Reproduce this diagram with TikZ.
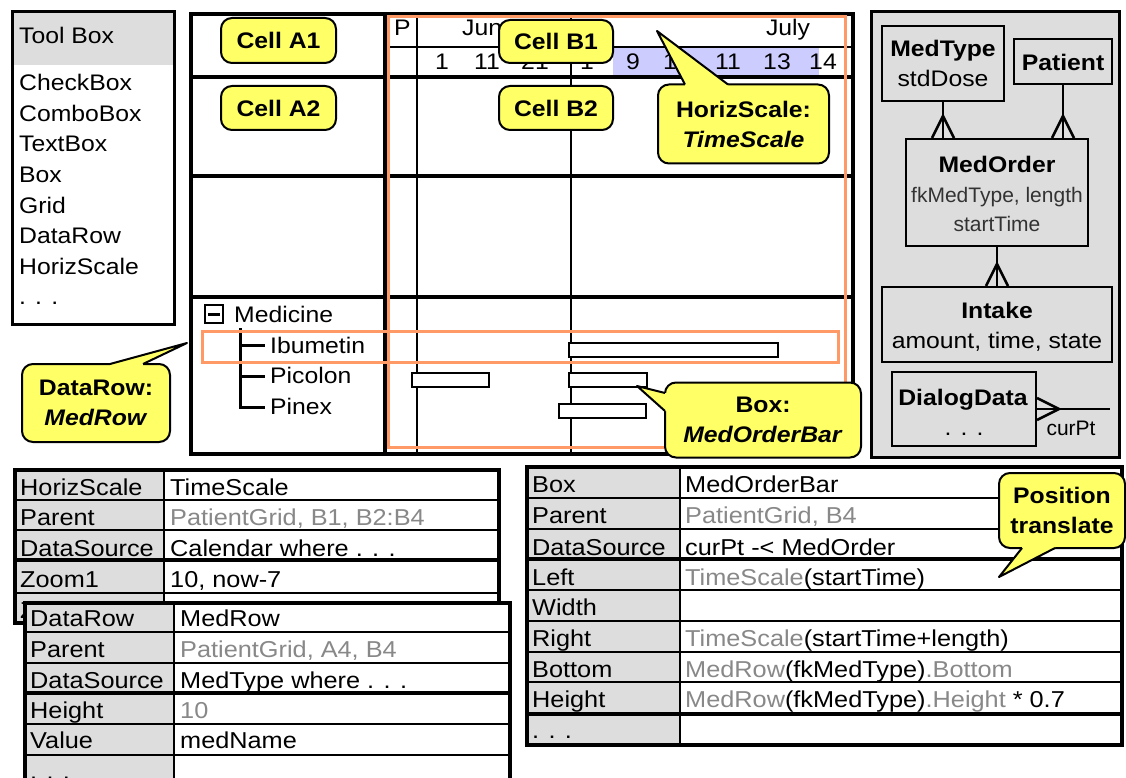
\documentclass[tikz,border=0pt]{standalone}
\usepackage{fontspec}
\setmainfont{Liberation Sans}[FakeStretch=1.1]
\newfontfamily\erplain{Liberation Sans}
\usetikzlibrary{calc}
\definecolor{calloutyellow}{RGB}{255,255,102}
\definecolor{panelgray}{RGB}{221,221,221}
\definecolor{orangeframe}{RGB}{255,153,102}
\definecolor{lavender}{RGB}{204,204,255}
\definecolor{softgray}{RGB}{136,136,136}
\definecolor{darktext}{RGB}{51,51,51}
\newcommand{\calltail}[4]{%
  \fill[calloutyellow] ($(#1)+(#4)$) -- (#1) -- (#2) -- (#3) -- ($(#3)+(#4)$) -- cycle;
  \draw[line width=2pt,line join=round] (#1) -- (#2) -- (#3);}
\begin{document}
\begin{tikzpicture}[x=1pt,y=-1pt,
  lbl/.style={inner sep=0pt, anchor=base west, font=\fontsize{22.5}{27}\selectfont},
  ctr/.style={inner sep=0pt, anchor=base, font=\fontsize{22.5}{27}\selectfont},
  tbl/.style={inner sep=0pt, anchor=base west, font=\fontsize{23}{27}\selectfont},
  erb/.style={inner sep=0pt, anchor=base, font=\bfseries\fontsize{22.5}{27}\selectfont},
  ern/.style={inner sep=0pt, anchor=base, font=\fontsize{22.5}{27}\selectfont},
  ernarrow/.style={inner sep=0pt, anchor=base, text=darktext, font=\erplain\fontsize{21}{25}\selectfont},
  thickline/.style={line width=4pt},
  thinline/.style={line width=1.2pt},
  callout/.style={draw=black, line width=2pt, fill=calloutyellow, rounded corners=11pt,
    align=center, inner sep=0pt, font=\bfseries\fontsize{22.5}{30}\selectfont},
  erbox/.style={draw=black, line width=2pt, fill=panelgray, inner sep=0pt},
  erline/.style={line width=2.5pt},
  crow/.pic={\draw[line width=2.5pt] (-11,22) -- (0,0) -- (11,22);},
  bar/.style={draw=black, line width=2pt, fill=white},
  hilite/.style={draw=orangeframe, line width=3pt},
  treeline/.style={line width=3pt},
  tframe/.style={line width=3.5pt},
  tsep/.style={line width=4pt},
  tcell/.style={line width=1.5pt}
]
\useasboundingbox (0,0) rectangle (1126,778);

% ---------------- Tool box
\fill[panelgray] (12,12) rectangle (174,65);
\draw[line width=3pt] (12,12) rectangle (174,324);
\node[lbl] (tbtitle) at (19,44) {Tool Box};
\foreach \t/\yy [count=\i] in {CheckBox/91,ComboBox/121.5,TextBox/152,Box/182.5,Grid/213,DataRow/243.5,HorizScale/274,{. . .}/304.5}
  \node[lbl] (tb\i) at (19,\yy) {\t};

% ---------------- Grid
\fill[white] (191,14) rectangle (853,454);
\fill[lavender] (613,47) rectangle (819,76);
\draw[thinline] (417,14) -- (417,454) (571,14) -- (571,454) (385,47) -- (853,47);
\draw[thickline] (191,14) rectangle (853,454);
\draw[thickline] (191,77) -- (853,77) (191,176) -- (853,176) (191,297) -- (853,297) (385,14) -- (385,454);
\node[lbl] (hP) at (394,36) {P};
\node[lbl] (hJune) at (462,36) {June};
\node[ctr] (hJuly) at (788,36) {July};
\foreach \n/\xx [count=\i] in {1/442,11/487,21/535,1/587,9/633,10/677,11/728,13/777,14/823}
  \node[ctr] (day\i) at (\xx,70) {\n};

% bars
\draw[bar] (569,343) rectangle (778,357);
\draw[bar] (412,373) rectangle (489,387);
\draw[bar] (569,373) rectangle (647,387);
\draw[bar] (559,404) rectangle (646,418);

% tree
\node[draw, line width=2.5pt, minimum size=18pt, inner sep=0pt] (minus) at (214,314) {};
\draw[treeline] ($(minus.center)+(-6,0)$) -- ($(minus.center)+(6,0)$);
\node[lbl] (medicine) at (234,322) {Medicine};
\node[lbl] (ibu) at (270,353) {Ibumetin};
\node[lbl] (pico) at (270,383) {Picolon};
\node[lbl] (pinex) at (270,414) {Pinex};
\coordinate (treetop) at (240,328);
\draw[treeline] (treetop) |- (265,407);
\draw[treeline] (240,345) -- (265,345) (240,376) -- (265,376);

% orange highlights
\draw[hilite] (388,17) rectangle (845,447);
\draw[hilite] (202,331) rectangle (838,362);

% callouts on grid
\node[callout, minimum width=115pt, minimum height=45pt] (cA1) at (278.5,40.5) {Cell A1};
\node[callout, minimum width=115pt, minimum height=44pt] (cA2) at (278.5,108) {Cell A2};
\node[callout, minimum width=114pt, minimum height=43pt] (cB1) at (556,41.5) {Cell B1};
\node[callout, minimum width=114pt, minimum height=44pt] (cB2) at (556,108) {Cell B2};
\node[callout, minimum width=171pt, minimum height=79pt] (cHS) at (743.5,124) {HorizScale:\\\textit{TimeScale}};
\calltail{685,84.5}{657,31}{728,84.5}{0,3}
\node[callout, minimum width=148pt, minimum height=78pt] (cDR) at (96,403) {DataRow:\\\textit{MedRow}};
\calltail{110,364}{187,343}{143,364}{0,3}
\node[callout, minimum width=196pt, minimum height=75pt] (cBox) at (763,420) {Box:\\\textit{MedOrderBar}};
\calltail{665,393}{637,386}{665,411}{3,0}

% ---------------- ER panel
\draw[fill=panelgray, line width=3pt] (871,12) rectangle (1119,457);
\node[erbox, minimum width=122pt, minimum height=75pt] (medtype) at (943,63.5) {};
\node[erb] (medtypeT) at (943,57) {MedType};
\node[ern] (medtypeA) at (943,87) {stdDose};
\node[erbox, minimum width=98pt, minimum height=45pt] (patient) at (1063,61.5) {};
\node[erb] (patientT) at (1063,71) {Patient};
\node[erbox, minimum width=182pt, minimum height=107pt] (medorder) at (997,192.5) {};
\node[erb] (medorderT) at (997,172) {MedOrder};
\node[ernarrow] (medorderA) at (997,202) {fkMedType, length};
\node[ernarrow] (medorderB) at (997,231) {startTime};
\node[erbox, minimum width=230pt, minimum height=75pt] (intake) at (997,324.5) {};
\node[erb] (intakeT) at (997,318) {Intake};
\node[ern] (intakeA) at (997,348) {amount, time, state};
\node[erbox, minimum width=144pt, minimum height=74pt] (dialog) at (964,409) {};
\node[erb] (dialogT) at (963,405) {DialogData};
\node[ern] (dialogA) at (964,435) {. . .};

\draw[erline] (medtype.south) -- (medtype.south |- medorder.north);
\pic at ($(medtype.south |- medorder.north)+(0,-22)$) {crow};
\draw[erline] (patient.south) -- (patient.south |- medorder.north);
\pic at ($(patient.south |- medorder.north)+(0,-22)$) {crow};
\draw[erline] (medorder.south) -- (intake.north);
\pic at ($(intake.north)+(0,-22)$) {crow};
\coordinate (curptend) at (1110,409);
\draw[erline] (dialog.east) -- (curptend);
\pic[rotate=-90] at ($(dialog.east)+(22,0)$) {crow};
\node[inner sep=0pt, anchor=base, font=\erplain\fontsize{21}{25}\selectfont] (curptlbl) at (1071,435) {curPt};

% ---------------- Table 1 (HorizScale)
\fill[panelgray] (15,470) rectangle (164,623);
\fill[white] (164,470) rectangle (499,623);
\draw[tcell] (15,500) -- (499,500) (15,530) -- (499,530) (15,593) -- (499,593) (164,470) -- (164,623);
\draw[tsep] (15,560) -- (499,560);
\draw[tframe] (15,470) rectangle (499,623);
\node[tbl] (a1) at (20,495) {HorizScale};
\node[tbl] (a2) at (20,525) {Parent};
\node[tbl] (a3) at (20,556) {DataSource};
\node[tbl] (a4) at (20,587) {Zoom1};
\node[tbl] (a5) at (20,618) {Zoom2};
\node[tbl] (av1) at (170,495) {TimeScale};
\node[tbl, text=softgray] (av2) at (170,525) {PatientGrid, B1, B2:B4};
\node[tbl] (av3) at (170,556) {Calendar where . . .};
\node[tbl] (av4) at (170,587) {10, now-7};

% ---------------- Table 2 (DataRow)
\fill[panelgray] (25,603) rectangle (174,800);
\fill[white] (174,603) rectangle (510,800);
\draw[tcell] (25,632) -- (510,632) (25,663) -- (510,663) (25,724) -- (510,724) (25,755) -- (510,755) (174,603) -- (174,800);
\draw[tsep] (25,693) -- (510,693);
\draw[tframe] (25,800) -- (25,603) -- (510,603) -- (510,800);
\node[tbl] (b1) at (30,626) {DataRow};
\node[tbl] (b2) at (30,657) {Parent};
\node[tbl] (b3) at (30,688) {DataSource};
\node[tbl] (b4) at (30,718) {Height};
\node[tbl] (b5) at (30,748) {Value};
\node[tbl] (b6) at (30,779) {. . .};
\node[tbl] (bv1) at (180,626) {MedRow};
\node[tbl, text=softgray] (bv2) at (180,657) {PatientGrid, A4, B4};
\node[tbl] (bv3) at (180,688) {MedType where . . .};
\node[tbl, text=softgray] (bv4) at (180,718) {10};
\node[tbl] (bv5) at (180,748) {medName};

% ---------------- Table 3 (Box)
\fill[panelgray] (527,467) rectangle (680,745);
\fill[white] (680,467) rectangle (1122,745);
\draw[tcell] (527,498) -- (1122,498) (527,529) -- (1122,529) (527,590) -- (1122,590) (527,621) -- (1122,621)
  (527,652) -- (1122,652) (527,682) -- (1122,682) (680,467) -- (680,745);
\draw[tsep] (527,559) -- (1122,559) (527,714) -- (1122,714);
\draw[tframe] (527,467) rectangle (1122,745);
\node[tbl] (c1) at (532,492) {Box};
\node[tbl] (c2) at (532,523) {Parent};
\node[tbl] (c3) at (532,555) {DataSource};
\node[tbl] (c4) at (532,585) {Left};
\node[tbl] (c5) at (532,615) {Width};
\node[tbl] (c6) at (532,646) {Right};
\node[tbl] (c7) at (532,677) {Bottom};
\node[tbl] (c8) at (532,707) {Height};
\node[tbl] (c9) at (532,738) {. . .};
\node[tbl] (cv1) at (685,492) {MedOrderBar};
\node[tbl, text=softgray] (cv2) at (685,523) {PatientGrid, B4};
\node[tbl] (cv3) at (685,555) {curPt -< MedOrder};
\node[tbl] (cv4) at (685,585) {\textcolor{softgray}{TimeScale}(startTime)};
\node[tbl] (cv6) at (685,646) {\textcolor{softgray}{TimeScale}(startTime+length)};
\node[tbl] (cv7) at (685,677) {\textcolor{softgray}{MedRow}(fkMedType)\textcolor{softgray}{.Bottom}};
\node[tbl] (cv8) at (685,707) {\textcolor{softgray}{MedRow}(fkMedType)\textcolor{softgray}{.Height} * 0.7};

% Position callout
\node[callout, minimum width=126pt, minimum height=75pt] (cPos) at (1062,510.5) {Position\\translate};
\calltail{1022,548}{999,577}{1055,548}{0,-3}
\end{tikzpicture}
\end{document}
